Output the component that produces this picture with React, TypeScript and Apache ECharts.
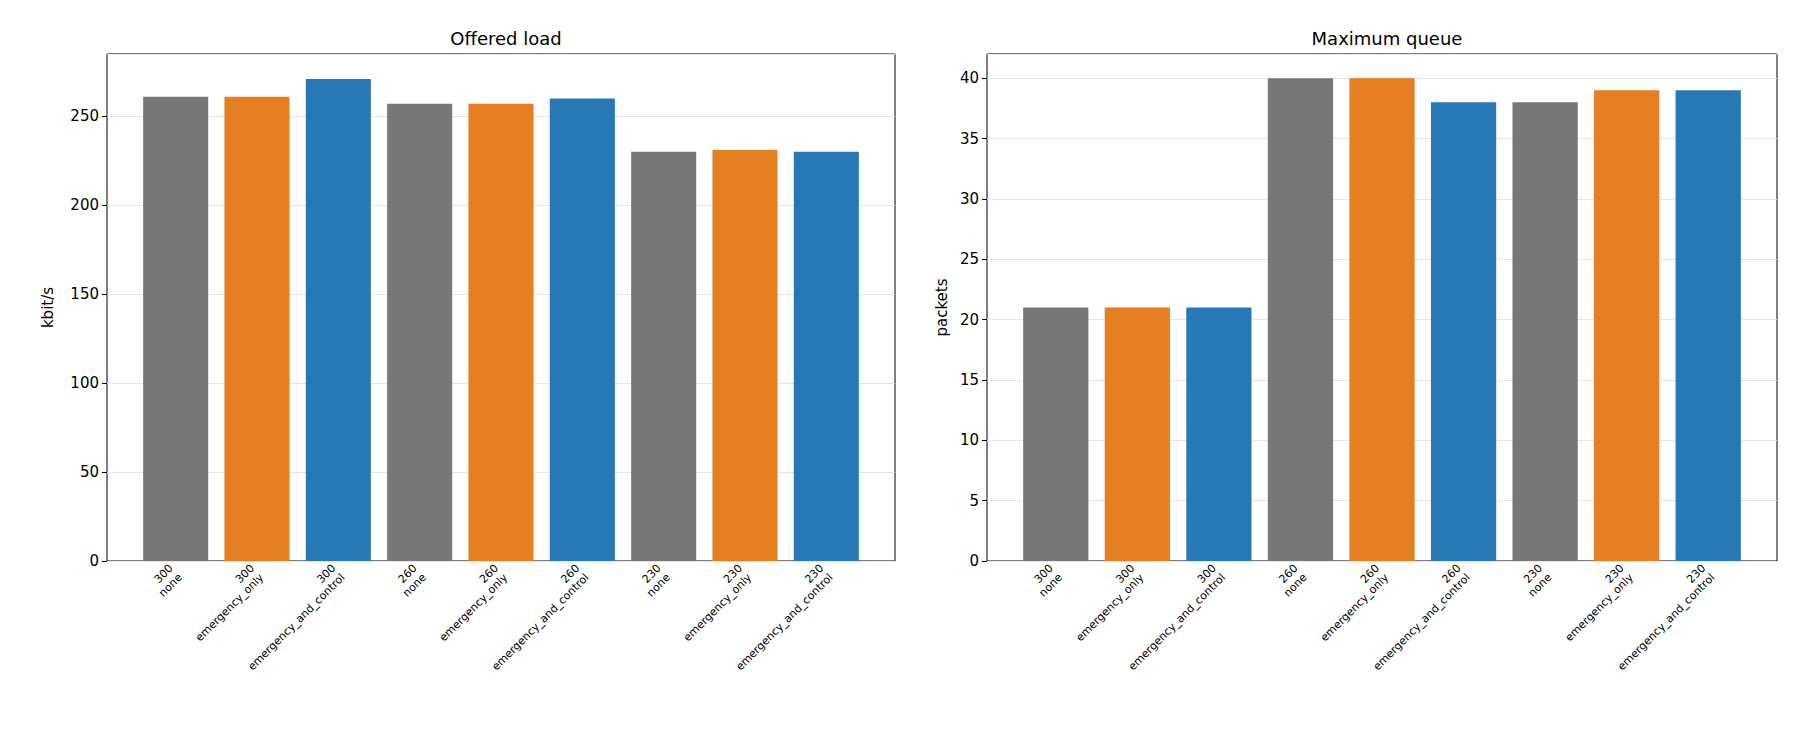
import React, { useEffect, useRef } from 'react';
import * as echarts from 'echarts';

const categories = [
  '300\nnone', '300\nemergency_only', '300\nemergency_and_control',
  '260\nnone', '260\nemergency_only', '260\nemergency_and_control',
  '230\nnone', '230\nemergency_only', '230\nemergency_and_control',
];
const offeredLoad = [261, 261, 271, 257, 257, 260, 230, 231, 230];
const maxQueue = [21, 21, 21, 40, 40, 38, 38, 39, 39];
const schemeColors = ['#777777', '#e67e22', '#2878b5'];

const FONT = 'DejaVu Sans';
const PAD = 28;

const App = () => {
  const chartRef = useRef<HTMLDivElement>(null);

  useEffect(() => {
    if (!chartRef.current) return;
    const chart = echarts.init(chartRef.current, null, { renderer: 'svg' });

    const frames = [
      { left: 99, top: 46, width: 788, height: 507 },
      { left: 979, top: 46, width: 790, height: 507 },
    ];
    const scales = [
      { name: 'kbit/s', max: 285, interval: 50, gap: 52 },
      { name: 'packets', max: 42, interval: 5, gap: 38 },
    ];

    // grids 0,1: full frames (border, y labels, split lines); grids 2,3: inner bar areas
    const grid = [
      ...frames.map((g) => ({ ...g, show: true, borderColor: '#000', borderWidth: 1 })),
      ...frames.map((g) => ({ left: g.left + PAD, top: g.top, width: g.width - 2 * PAD, height: g.height })),
    ];

    const xAxis = [
      ...[0, 1].map((i) => ({ type: 'value', gridIndex: i, min: 0, max: 1, show: false })),
      ...[0, 1].map((i) => ({
        type: 'category',
        gridIndex: i + 2,
        data: categories,
        axisLine: { show: false },
        axisTick: { alignWithLabel: true, length: 5, lineStyle: { color: '#000' } },
        axisLabel: { rotate: 45, interval: 0, fontSize: 11, color: '#000', fontFamily: FONT, lineHeight: 13, margin: 10 },
      })),
    ];

    const yAxis = [
      ...scales.map((s, i) => ({
        type: 'value',
        gridIndex: i,
        name: s.name,
        nameLocation: 'middle',
        nameGap: s.gap,
        nameTextStyle: { fontSize: 15, color: '#000', fontFamily: FONT },
        min: 0,
        max: s.max,
        interval: s.interval,
        axisLine: { show: false },
        axisTick: { show: true, length: 5, lineStyle: { color: '#000' } },
        axisLabel: { fontSize: 15, color: '#000', fontFamily: FONT, showMaxLabel: false },
        splitLine: { lineStyle: { color: '#e6e6e6' } },
      })),
      ...scales.map((s, i) => ({
        type: 'value',
        gridIndex: i + 2,
        min: 0,
        max: s.max,
        show: false,
        splitLine: { show: false },
      })),
    ];

    const mkData = (vals: number[]) =>
      vals.map((v, i) => ({ value: v, itemStyle: { color: schemeColors[i % 3] } }));

    const titleStyle = { fontSize: 18, fontWeight: 'normal', color: '#000', fontFamily: FONT };

    chart.setOption({
      animation: false,
      title: [
        { text: 'Offered load', left: frames[0].left + frames[0].width / 2, top: 16, textAlign: 'center', textStyle: titleStyle },
        { text: 'Maximum queue', left: frames[1].left + frames[1].width / 2, top: 16, textAlign: 'center', textStyle: titleStyle },
      ],
      grid,
      xAxis,
      yAxis,
      series: [
        { type: 'bar', xAxisIndex: 2, yAxisIndex: 2, barCategoryGap: '20%', data: mkData(offeredLoad) },
        { type: 'bar', xAxisIndex: 3, yAxisIndex: 3, barCategoryGap: '20%', data: mkData(maxQueue) },
      ],
    });

    return () => chart.dispose();
  }, []);

  return <div ref={chartRef} style={{ width: 1784, height: 734 }} />;
};

export default App;
